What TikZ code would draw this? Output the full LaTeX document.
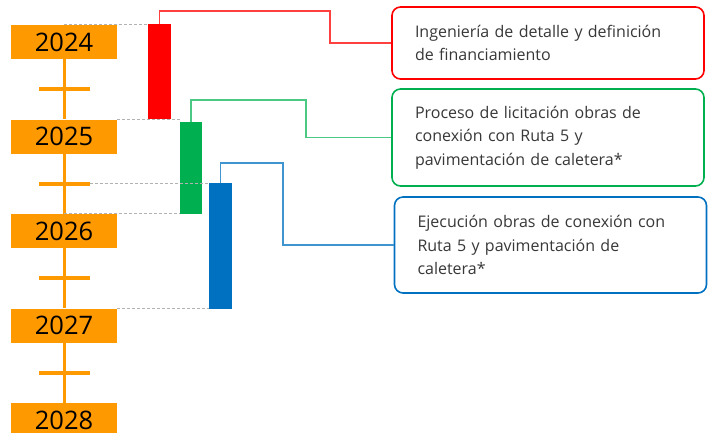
\documentclass[tikz,border=0pt]{standalone}
\usepackage{fontspec}
\setmainfont{Open Sans}
\usepackage{xcolor}
\usepackage{tikz}
\usetikzlibrary{calc}
\usetikzlibrary{positioning}
\definecolor{yearorange}{HTML}{FF9900}
\definecolor{barred}{HTML}{FF0000}
\definecolor{bargreen}{HTML}{00B050}
\definecolor{barblue}{HTML}{0070C0}

\begin{document}
\begin{tikzpicture}[
    x = 1pt,
    y = -1pt,
    yearf/.style = {
      rectangle,
      fill=yearorange,
      minimum width=106pt,
      minimum height=34pt,
      inner sep=0pt,
      font=\fontsize{25.5}{25.5}\selectfont
    },
    tickf/.style = {
      rectangle,
      fill=yearorange,
      minimum width=51pt,
      minimum height=4pt,
      inner sep=0pt
    },
    barf/.style = {
      rectangle,
      minimum width=23pt,
      inner sep=0pt
    },
    taskf/.style = {
      rectangle,
      rounded corners=3mm,
      line width=1.6pt,
      fill=white,
      text width=266pt,
      inner xsep=23pt,
      inner ysep=0pt,
      align=left,
      text=black!78,
      font=\fontsize{16}{23.5}\selectfont
    },
    guide/.style = {
      gray!60,
      densely dashed,
      line width=.8pt
    },
    link/.style = {
      line width=1.2pt
    }
  ]
    \useasboundingbox (0,0) rectangle (710,432);

    \foreach \yr [count=\i from 0] in {2024,2025,2026,2027,2028}
      \node[yearf] (y\yr) at (64, 42+94.5*\i) {\yr};

    \foreach \a/\b [count=\i] in {2024/2025,2025/2026,2026/2027,2027/2028} {
      \draw[yearorange, line width=3pt] (y\a) -- (y\b);
      \node[tickf] (t\i) at ($(y\a)!.5!(y\b)$) {};
    }

    \node[barf, fill=barred, minimum height=95pt] (rbar) at (159.5, 71.5) {};
    \node[barf, fill=bargreen, minimum height=92pt, minimum width=22pt] (gbar) at (191, 168) {};
    \node[barf, fill=barblue, minimum height=126pt] (bbar) at (220.5, 246) {};

    \node[taskf, draw=barred, minimum height=72pt] (rtask) at (548, 43)
      {Ingeniería de detalle y definición\\de financiamiento};
    \node[taskf, draw=bargreen, minimum height=97pt] (gtask) at (548, 137.5)
      {Proceso de licitación obras de\\conexión con Ruta 5 y\\pavimentación de caletera*};
    \node[taskf, draw=barblue, minimum height=96pt] (btask) at (550.5, 245)
      {Ejecución obras de conexión con\\Ruta 5 y pavimentación de\\caletera*};

    \coordinate (rturn) at (330, 11);
    \coordinate (gturn) at (306, 100);
    \coordinate (bturn) at (283, 163);

    \draw[guide] (y2024.north) -- (y2024.north -| rbar.west);
    \draw[guide] (y2025.north east) -- (y2025.north east -| gbar.west);
    \draw[guide] (t2.east) -- (t2.east -| bbar.west);
    \draw[guide] (y2026.north) -- (y2026.north -| gbar.west);
    \draw[guide] (y2027.north east) -- (y2027.north east -| bbar.west);

    \draw[link, barred!75] (rbar.north) |- (rturn) |- (rtask.west);
    \draw[link, bargreen!70] (gbar.north) |- (gturn) |- (gtask.west);
    \draw[link, barblue!75] (bbar.north) |- (bturn) |- (btask.west);

  \end{tikzpicture}
\end{document}
